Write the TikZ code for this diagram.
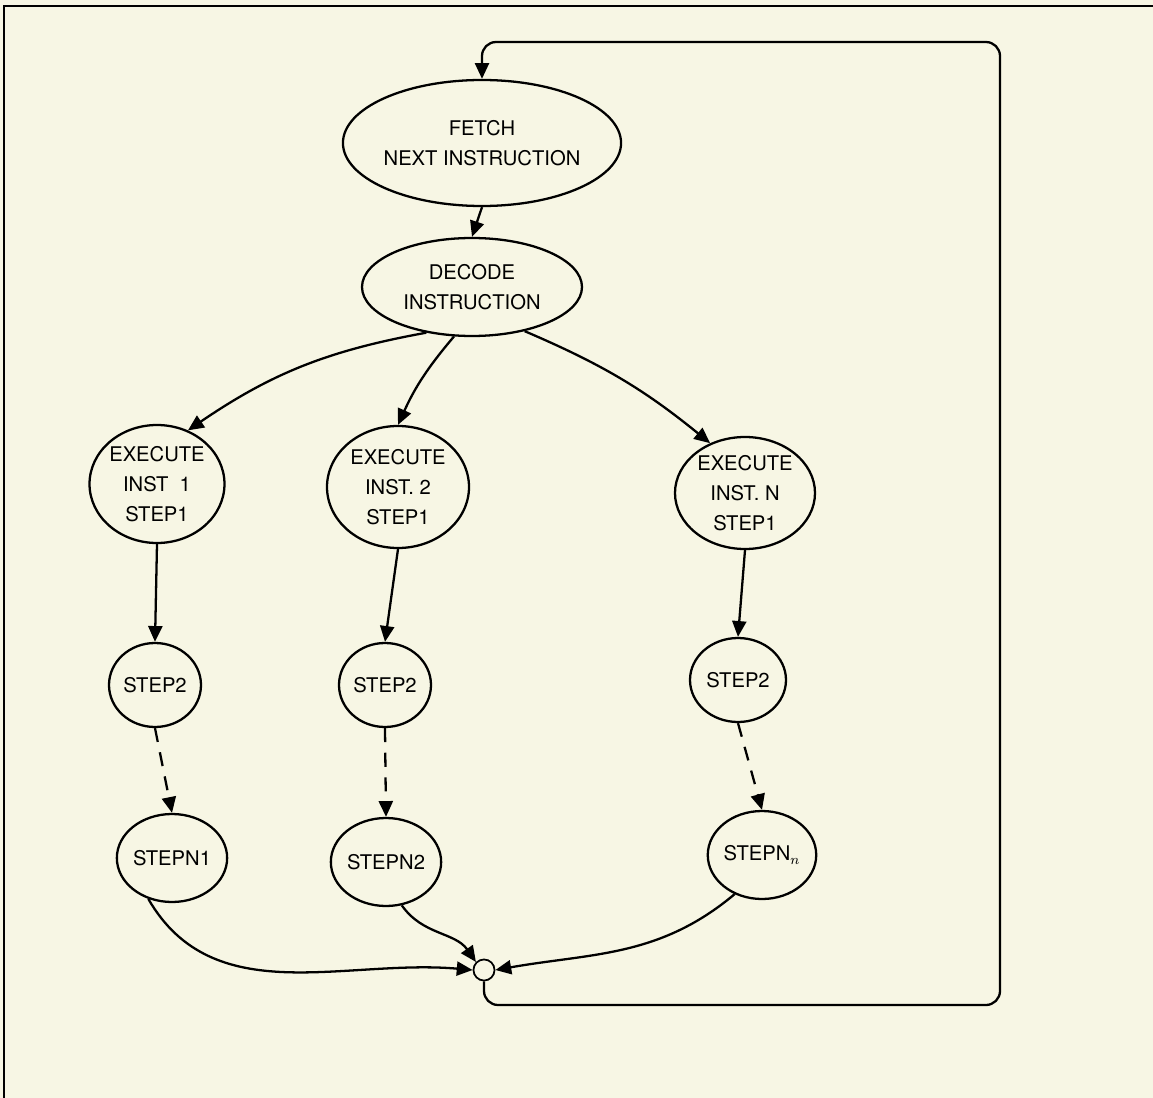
\documentclass[tikz,border=0pt]{standalone}
\usepackage{fontspec}
\setmainfont{TeX Gyre Heros}
\usetikzlibrary{shapes.geometric,arrows.meta}
\definecolor{paper}{HTML}{F7F6E4}
\begin{document}
\begin{tikzpicture}[x=0.02cm,y=-0.02cm,
  line width=1.3pt,
  st/.style={draw,ellipse,inner sep=0pt,align=center,font=\fontsize{11.5}{17}\selectfont},
  arr/.style={-{Triangle[length=9pt,width=8pt]}},
  jn/.style={draw,circle,minimum size=12pt,inner sep=0pt,line width=1pt}]
\fill[paper] (0,0) rectangle (1153,1098);
\useasboundingbox (0,0) rectangle (1153,1098);
\draw[line width=1.6pt] (4,1098) -- (4,6) -- (1153,6);
% nodes
\node[st,minimum width=266*0.02cm,minimum height=126*0.02cm] (fetch) at (482,143) {FETCH\\NEXT INSTRUCTION};
\node[st,minimum width=220*0.02cm,minimum height=98*0.02cm] (decode) at (472,287) {DECODE\\INSTRUCTION};
\node[st,minimum width=124*0.02cm,minimum height=118*0.02cm] (e1) at (157,484) {EXECUTE\\INST \ 1\\STEP1};
\node[st,minimum width=142*0.02cm,minimum height=122*0.02cm] (e2) at (398,487) {EXECUTE\\INST. 2\\STEP1};
\node[st,minimum width=140*0.02cm,minimum height=112*0.02cm] (en) at (745,493) {EXECUTE\\INST. N\\STEP1};
\node[st,minimum width=92*0.02cm,minimum height=84*0.02cm] (s1) at (155,685) {STEP2};
\node[st,minimum width=92*0.02cm,minimum height=84*0.02cm] (s2) at (385,685) {STEP2};
\node[st,minimum width=96*0.02cm,minimum height=84*0.02cm] (sn) at (738,680) {STEP2};
\node[st,minimum width=100*0.02cm,minimum height=88*0.02cm] (t1) at (172,858) {STEPN1};
\node[st,minimum width=96*0.02cm,minimum height=88*0.02cm] (t2) at (386,862) {STEPN2};
\node[st,minimum width=98*0.02cm,minimum height=88*0.02cm] (tn) at (762,855) {STEPN$_n$};
\node[jn] (j) at (484,970) {};
\coordinate (br) at (1000,1005);
\coordinate (tr) at (1000,42);
% connectors
\draw[arr,rounded corners=8pt] (j.south) |- (br) -- (tr) -| (fetch.north);
\draw[arr] (fetch.south) -- (decode.north);
\draw[arr] (decode.225) to[bend right=12] (e1.60);
\draw[arr] (decode.250) to[bend right=8] (e2.north);
\draw[arr] (decode.320) to[bend left=8] (en.125);
\draw[arr] (e1.south) -- (s1.north);
\draw[arr] (e2.south) -- (s2.north);
\draw[arr] (en.south) -- (sn.north);
\draw[arr,dashed,dash pattern=on 8pt off 6pt] (s1.south) -- (t1.north);
\draw[arr,dashed,dash pattern=on 8pt off 6pt] (s2.south) -- (t2.north);
\draw[arr,dashed,dash pattern=on 8pt off 6pt] (sn.south) -- (tn.north);
\draw[arr] (t1.240) to[out=-60,in=175] (j.west);
\draw[arr] (t2.290) to[out=-55,in=125] (j.north west);
\draw[arr] (tn.235) to[out=-140,in=10] (j.east);
\end{tikzpicture}
\end{document}
